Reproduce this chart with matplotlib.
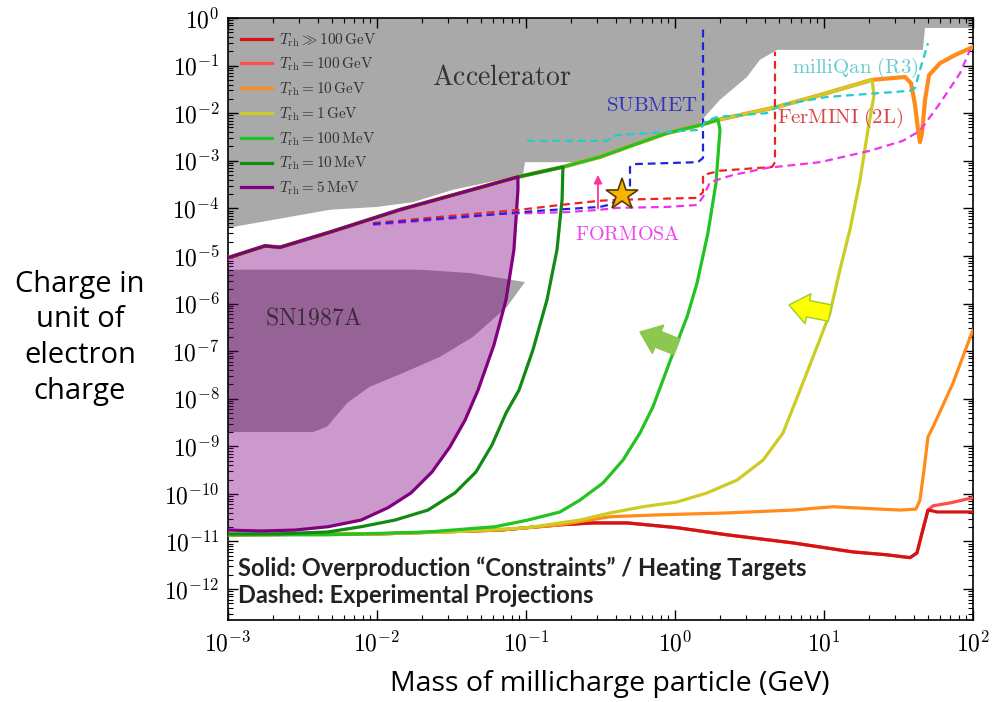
import numpy as np
import matplotlib
matplotlib.use("Agg")
import matplotlib.pyplot as plt
from matplotlib.lines import Line2D
from matplotlib.ticker import LogLocator, FixedLocator, FuncFormatter, NullFormatter

plt.rcParams["mathtext.fontset"] = "cm"
plt.rcParams["font.family"] = ["DejaVu Sans"]

# ---------------------------------------------------------------------------
# Data: log10(mass / GeV) and log10(charge / e)
# ---------------------------------------------------------------------------

# excluded region from accelerator searches (lower boundary)
acc_logm = [-3.0, -2.315, -2.0, -1.758, -1.49, -1.02, -1.007, -0.62, -0.503, -0.282,
            -0.054, 0.168, 0.181, 0.302, 0.483, 0.570, 0.685, 1.664, 1.678, 2.0]
acc_logq = [-4.41, -4.03, -3.97, -3.87, -3.61, -3.30, -3.03, -3.03, -2.90, -2.65,
            -2.40, -2.21, -2.14, -1.72, -1.24, -0.88, -0.67, -0.67, -0.21, -0.21]

# supernova cooling bound (closed contour)
sn_logm = [-3.0, -1.711, -1.376, -1.007, -1.128, -1.356, -1.577, -1.826, -2.05,
           -2.20, -2.336, -2.43, -3.0]
sn_logq = [-5.29, -5.29, -5.36, -5.55, -6.07, -6.70, -7.12, -7.46, -7.75,
           -8.09, -8.59, -8.70, -8.70]

# upper branch shared by the overproduction contours
top_logm = [-3.0, -2.752, -2.651, -2.315, -1.846, -1.443, -1.054, -0.752, -0.503,
            -0.282, -0.054, 0.168, 0.289, 0.685, 0.973, 1.322, 1.544, 1.584, 1.611,
            1.631, 1.644, 1.658, 1.678, 1.705, 1.779, 1.879, 2.0]
top_logq = [-5.04, -4.79, -4.82, -4.50, -4.03, -3.68, -3.34, -3.13, -2.92,
            -2.67, -2.42, -2.25, -2.14, -1.87, -1.62, -1.30, -1.24, -1.37, -1.83,
            -2.35, -2.61, -2.42, -1.72, -1.20, -0.95, -0.78, -0.61]

# falling branch + lower branch of each reheating temperature
t5mev_logm = [-1.054, -1.054, -1.081, -1.134, -1.215, -1.322, -1.409, -1.510, -1.631,
              -1.772, -1.926, -2.107, -2.329, -2.550, -2.779, -3.0]
t5mev_logq = [-3.34, -3.61, -4.87, -5.92, -6.87, -7.82, -8.45, -9.01, -9.54,
              -9.98, -10.29, -10.55, -10.69, -10.76, -10.78, -10.76]

t10mev_logm = [-0.752, -0.758, -0.792, -0.859, -0.953, -1.047, -1.134, -1.228, -1.336,
               -1.477, -1.658, -1.879, -2.107, -2.329, -2.664, -3.0]
t10mev_logq = [-3.13, -3.82, -4.87, -5.92, -6.97, -7.82, -8.30, -8.97, -9.54,
               -9.98, -10.34, -10.55, -10.69, -10.80, -10.84, -10.84]

t100mev_logm = [0.289, 0.302, 0.275, 0.221, 0.148, 0.081, -0.013, -0.081, -0.148,
                -0.235, -0.349, -0.483, -0.638, -0.772, -0.987, -1.208, -1.658,
                -2.329, -3.0]
t100mev_logq = [-2.14, -2.35, -3.47, -4.52, -5.57, -6.28, -7.04, -7.61, -8.17,
                -8.72, -9.29, -9.77, -10.13, -10.38, -10.55, -10.69, -10.80,
                -10.86, -10.86]

t1gev_logm = [1.322, 1.336, 1.295, 1.242, 1.174, 1.107, 1.040, 0.953, 0.839, 0.725,
              0.591, 0.416, 0.215, 0.013, -0.215, -0.436, -0.638, -0.772, -0.987,
              -1.510, -1.980, -3.0]
t1gev_logq = [-1.30, -1.62, -2.35, -3.40, -4.45, -5.29, -6.20, -6.91, -7.82, -8.72,
              -9.29, -9.71, -9.98, -10.17, -10.27, -10.40, -10.55, -10.61, -10.71,
              -10.80, -10.84, -10.86]

t10gev_low_logm = [2.0, 1.866, 1.732, 1.698, 1.671, 1.644, 1.617, 1.510, 1.376, 1.060,
                   0.792, 0.349, -0.101, -0.436, -0.772, -1.174, -1.980, -3.0]
t10gev_low_logq = [-6.55, -7.67, -8.59, -8.80, -9.50, -10.13, -10.32, -10.34, -10.32,
                   -10.27, -10.34, -10.40, -10.44, -10.48, -10.65, -10.76, -10.84, -10.86]

t100gev_low_logm = [2.0, 1.846, 1.732, 1.698, 1.658, 1.624, 1.577, 1.423, 1.195, 0.792,
                    0.349, 0.013, -0.322, -0.550, -0.772, -1.174, -1.980, -3.0]
t100gev_low_logq = [-10.08, -10.19, -10.25, -10.34, -10.82, -11.24, -11.34, -11.28,
                    -11.22, -11.03, -10.86, -10.71, -10.61, -10.61, -10.65, -10.76,
                    -10.84, -10.86]

tinf_low_logm = [2.0, 1.758, 1.732, 1.698, 1.658, 1.624, 1.577, 1.423, 1.195, 0.792,
                 0.349, 0.013, -0.322, -0.550, -0.772, -1.174, -1.980, -3.0]
tinf_low_logq = [-10.38, -10.38, -10.36, -10.34, -10.82, -11.24, -11.34, -11.28,
                 -11.22, -11.03, -10.86, -10.71, -10.61, -10.61, -10.65, -10.76,
                 -10.84, -10.86]

# experimental projections
submet_logm = [-2.027, -1.510, -0.906, -0.503, -0.423, -0.383, -0.336, -0.302, -0.302,
               -0.268, 0.154, 0.188, 0.188]
submet_logq = [-4.33, -4.20, -4.05, -3.97, -3.91, -3.76, -3.68, -3.57, -3.13,
               -3.07, -3.03, -2.94, -0.15]

fermini_logm = [-2.027, -1.510, -1.040, -0.772, -0.503, -0.369, 0.148, 0.188, 0.188,
                0.302, 0.651, 0.671, 0.671]
fermini_logq = [-4.31, -4.16, -4.03, -3.93, -3.84, -3.82, -3.78, -3.66, -3.30,
                -3.21, -3.13, -3.03, -0.71]

formosa_logm = [-2.027, -1.510, -1.174, -0.725, -0.503, -0.389, -0.054, 0.148, 0.188,
                0.235, 0.389, 0.617, 0.973, 1.309, 1.530, 1.644, 1.779, 1.913, 1.980]
formosa_logq = [-4.35, -4.22, -4.12, -4.08, -4.03, -3.99, -3.97, -3.93, -3.76,
                -3.45, -3.30, -3.15, -3.03, -2.79, -2.58, -2.37, -1.79, -1.16, -0.67]

milliqan_logm = [-0.993, -0.456, -0.389, -0.168, 0.168, 0.201, 0.282, 0.617, 0.705,
                 1.020, 1.577, 1.611, 1.644, 1.698]
milliqan_logq = [-2.58, -2.58, -2.46, -2.42, -2.35, -2.18, -2.08, -2.00, -1.83,
                 -1.66, -1.53, -1.47, -1.09, -0.53]

# benchmark point
star_logm, star_logq = -0.356, -3.72

legend_labels = [r"$T_{\rm rh} \gg 100\,{\rm GeV}$", r"$T_{\rm rh} = 100\,{\rm GeV}$",
                 r"$T_{\rm rh} = 10\,{\rm GeV}$", r"$T_{\rm rh} = 1\,{\rm GeV}$",
                 r"$T_{\rm rh} = 100\,{\rm MeV}$", r"$T_{\rm rh} = 10\,{\rm MeV}$",
                 r"$T_{\rm rh} = 5\,{\rm MeV}$"]
legend_colors = ["#d41414", "#ff4d4d", "#ff8c1a", "#cccc22", "#22c322", "#138a13", "#800080"]

# decade ticks (exponents)
x_tick_exp = [-3, -2, -1, 0, 1, 2]
y_tick_exp = [0, -1, -2, -3, -4, -5, -6, -7, -8, -9, -10, -11, -12]


def p(a):
    return 10.0 ** np.asarray(a, dtype=float)


def contour(edge_m, edge_q):
    m0 = edge_m[0]
    tm = [m for m in top_logm if m < m0]
    tq = top_logq[:len(tm)]
    return p(tm + list(edge_m)), p(tq + list(edge_q))


fig = plt.figure(figsize=(10, 7.02), dpi=100)
ax = fig.add_axes([0.228, 0.1168, 0.745, 0.8576])
ax.set_xscale("log")
ax.set_yscale("log")
ax.set_xlim(1e-3, 1e2)
ax.set_ylim(10 ** -12.65, 1)

# shaded exclusion regions
ax.fill(list(p(acc_logm)) + [1e2, 1e-3], list(p(acc_logq)) + [1, 1],
        color="#a9a9a9", lw=0, zorder=1)
ax.fill(p(sn_logm), p(sn_logq), color="#a6a6a6", lw=0, zorder=1)

pm, pq = contour(t5mev_logm, t5mev_logq)
ax.fill(pm, pq, color="#800080", alpha=0.4, lw=0, zorder=2)

LW = 2.3
kw = dict(lw=LW, solid_joinstyle="round", solid_capstyle="round")
ax.plot(p(t100gev_low_logm), p(t100gev_low_logq), color=legend_colors[1], zorder=3, **kw)
ax.plot(p(tinf_low_logm), p(tinf_low_logq), color=legend_colors[0], zorder=3.05, **kw)
ax.plot(p(t10gev_low_logm), p(t10gev_low_logq), color=legend_colors[2], zorder=3.1, **kw)
ax.plot(p(top_logm), p(top_logq), color=legend_colors[2], zorder=3.1,
        lw=LW + 0.7, solid_joinstyle="round")
for em, eq, c, z in [(t1gev_logm, t1gev_logq, legend_colors[3], 3.2),
                     (t100mev_logm, t100mev_logq, legend_colors[4], 3.3),
                     (t10mev_logm, t10mev_logq, legend_colors[5], 3.4),
                     (t5mev_logm, t5mev_logq, legend_colors[6], 3.5)]:
    cm_, cq_ = contour(em, eq)
    ax.plot(cm_, cq_, color=c, zorder=z, **kw)

# dashed projections
for lm, lq, c in [(fermini_logm, fermini_logq, "#ee2222"),
                  (formosa_logm, formosa_logq, "#ee33ee"),
                  (submet_logm, submet_logq, "#2222dd"),
                  (milliqan_logm, milliqan_logq, "#22cccc")]:
    ln, = ax.plot(p(lm), p(lq), color=c, lw=1.6, zorder=4)
    ln.set_dashes((3.5, 2.2))

ax.plot(p(star_logm), p(star_logq), marker="*", ms=24, mfc="#f7b500",
        mec="#5a3a00", mew=1.2, zorder=6, ls="none")
ax.annotate("", xy=(p(-0.517), p(-3.24)), xytext=(p(-0.517), p(-4.06)),
            arrowprops=dict(arrowstyle="-|>", color="#ff3399", lw=1.3,
                            mutation_scale=12), zorder=5)

# direction arrows
fat = "simple,head_width=2.2,head_length=1.4,tail_width=1.2"
ax.annotate("", xy=(p(-0.235), p(-6.60)), xytext=(p(0.013), p(-6.91)),
            arrowprops=dict(arrowstyle=fat, mutation_scale=10, fc="#8cc850",
                            ec="#8cc850", shrinkA=0, shrinkB=0), zorder=5)
ax.annotate("", xy=(p(0.765), p(-6.03)), xytext=(p(1.040), p(-6.20)),
            arrowprops=dict(arrowstyle=fat, mutation_scale=10, fc="#ffff00",
                            ec="#9acd32", lw=1.0, shrinkA=0, shrinkB=0), zorder=5)

# region / experiment labels
ax.text(p(-1.161), p(-1.24), r"$\mathrm{Accelerator}$", fontsize=20, color="#333333",
        ha="center", va="center", zorder=5)
ax.text(p(-2.423), p(-6.30), r"$\mathrm{SN1987A}$", fontsize=17, color="#3a2a3a",
        ha="center", va="center", zorder=5)
ax.text(p(-0.154), p(-1.83), r"$\mathrm{SUBMET}$", fontsize=15, color="#3333bb",
        ha="center", va="center", zorder=5)
ax.text(p(1.208), p(-1.05), r"$\mathrm{milliQan\ (R3)}$", fontsize=15, color="#66cccc",
        ha="center", va="center", zorder=5)
ax.text(p(1.107), p(-2.10), r"$\mathrm{FerMINI\ (2L)}$", fontsize=15, color="#dd4444",
        ha="center", va="center", zorder=5)
ax.text(p(-0.315), p(-4.54), r"$\mathrm{FORMOSA}$", fontsize=14.5, color="#ee44ee",
        ha="center", va="center", zorder=5)

ax.text(0.0134, 0.0864, "Solid: Overproduction \u201cConstraints\u201d / Heating Targets",
        transform=ax.transAxes, fontsize=17, fontweight="bold", color="#222222",
        family=["Lato", "DejaVu Sans"], ha="left", va="center", zorder=5)
ax.text(0.0134, 0.0399, "Dashed: Experimental Projections",
        transform=ax.transAxes, fontsize=17, fontweight="bold", color="#222222",
        family=["Lato", "DejaVu Sans"], ha="left", va="center", zorder=5)

# legend
handles = [Line2D([], [], color=c, lw=LW) for c in legend_colors]
leg = ax.legend(handles, legend_labels, loc="upper left", frameon=False, fontsize=11,
                handlelength=2.0, handletextpad=0.5, labelspacing=0.47,
                borderaxespad=0.45, borderpad=0.4)
for t in leg.get_texts():
    t.set_color("#333333")
leg.set_zorder(7)

# axes, ticks
ax.xaxis.set_major_locator(FixedLocator(p(x_tick_exp)))
ax.yaxis.set_major_locator(FixedLocator(p(y_tick_exp)))
ax.xaxis.set_minor_locator(LogLocator(base=10, subs=np.arange(2, 10), numticks=300))
ax.yaxis.set_minor_locator(LogLocator(base=10, subs=np.arange(2, 10), numticks=300))
fmt = FuncFormatter(lambda v, pos: r"$10^{%d}$" % int(round(np.log10(v))))
ax.xaxis.set_major_formatter(fmt)
ax.yaxis.set_major_formatter(fmt)
ax.xaxis.set_minor_formatter(NullFormatter())
ax.yaxis.set_minor_formatter(NullFormatter())
ax.tick_params(which="both", direction="in", top=True, right=True, labelsize=17)
ax.tick_params(which="major", length=7, width=1.0)
ax.tick_params(which="minor", length=3.5, width=0.8)
ax.tick_params(axis="x", pad=8)
ax.tick_params(axis="y", pad=6)
for s in ax.spines.values():
    s.set_linewidth(1.2)

fig.text(0.08, 0.519, "Charge in\nunit of\nelectron\ncharge", fontsize=21,
         family=["Open Sans", "DejaVu Sans"], ha="center", va="center", linespacing=1.3)
fig.text(0.61, 0.0256, "Mass of millicharge particle (GeV)", fontsize=20.5,
         family=["Open Sans", "DejaVu Sans"], ha="center", va="center")

fig.savefig("out.png", dpi=100, facecolor="white")
